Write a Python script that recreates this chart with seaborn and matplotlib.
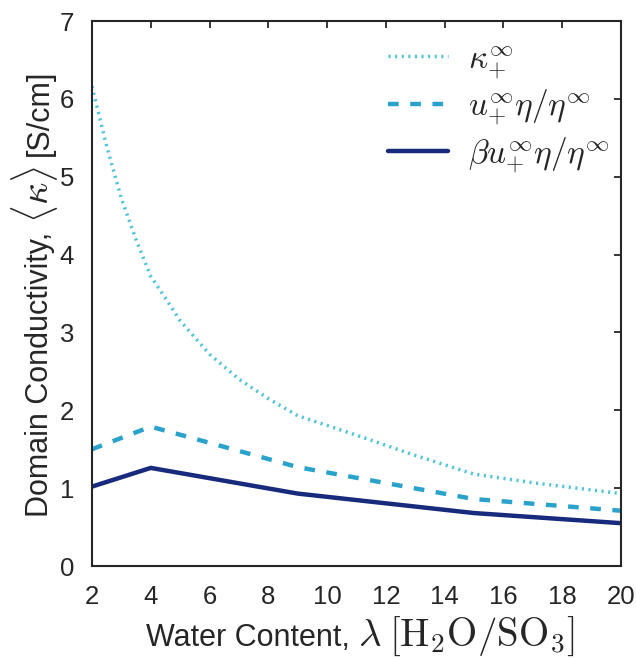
import numpy as np
import pandas as pd
import matplotlib
matplotlib.use("Agg")
import matplotlib.pyplot as plt
import seaborn as sns

# ---- data ----
lam_kappa = [2, 2.5, 3, 3.5, 4, 4.5, 5, 6, 7, 8, 9, 11, 13, 15, 17, 20]
kappa_inf = [6.16, 5.39, 4.72, 4.19, 3.72, 3.44, 3.15, 2.72, 2.40, 2.15, 1.93, 1.68, 1.42, 1.18, 1.07, 0.93]

lam = [2, 4, 9, 15, 20]
u_eta = [1.50, 1.79, 1.27, 0.86, 0.71]
beta_u_eta = [1.02, 1.26, 0.93, 0.68, 0.55]

labels = [r"$\kappa_{+}^{\infty}$",
          r"$u_{+}^{\infty}\eta/\eta^{\infty}$",
          r"$\beta u_{+}^{\infty}\eta/\eta^{\infty}$"]
xticks = [2, 4, 6, 8, 10, 12, 14, 16, 18, 20]
yticks = [0, 1, 2, 3, 4, 5, 6, 7]

xlabel_parts = ["Water Content,", r"$\lambda$", r"$[\mathrm{H_2O/SO_3}]$"]
ylabel_parts = ["Domain Conductivity,", r"$\langle\kappa\rangle$", "[S/cm]"]

sns.set_style("white")
plt.rcParams["font.family"] = ["Liberation Sans", "DejaVu Sans"]
plt.rcParams["mathtext.fontset"] = "cm"

W, H = 636, 658
fig = plt.figure(figsize=(W / 100, H / 100), dpi=100)
ax = fig.add_axes([92 / W, 92 / H, (621 - 92) / W, (566 - 21) / H])

c_dot = "#4cc3d6"
c_dash = "#2aa3cc"
c_solid = "#172a7c"
txt_c = "#262626"

sns.lineplot(x=lam_kappa, y=kappa_inf, ax=ax, color=c_dot, lw=2.5,
             linestyle=(0, (0.6, 1.3)), label=labels[0])
sns.lineplot(x=lam, y=u_eta, ax=ax, color=c_dash, lw=3.2,
             linestyle=(0, (2.4, 2.6)), label=labels[1])
sns.lineplot(x=lam, y=beta_u_eta, ax=ax, color=c_solid, lw=3.2,
             linestyle="-", label=labels[2])

ax.set_xlim(2, 20)
ax.set_ylim(0, 7)
ax.set_xticks(xticks)
ax.set_yticks(yticks)
ax.tick_params(direction="in", length=5, width=1.3, top=True, right=True,
               labelsize=18.5, colors=txt_c)
ax.tick_params(axis="x", pad=14)
ax.tick_params(axis="y", pad=13)
for s in ax.spines.values():
    s.set_visible(True)
    s.set_color(txt_c)
    s.set_linewidth(1.5)
ax.set_xlabel("")
ax.set_ylabel("")

leg = ax.legend(loc="upper right", bbox_to_anchor=(1.016, 0.995), frameon=False,
                fontsize=24, handlelength=1.8, handletextpad=0.6,
                labelspacing=0.25, borderaxespad=0.2)


def mixed_label(parts, sizes, center, base, vertical, gap=8):
    """Place text pieces of different sizes along one baseline (pixel coords)."""
    renderer = fig.canvas.get_renderer()
    rot = 90 if vertical else 0
    texts = []
    lengths = []
    for p, s in zip(parts, sizes):
        t = fig.text(0, 0, p, fontsize=s, color=txt_c, rotation=rot,
                     rotation_mode="anchor", ha="left", va="baseline")
        bb = t.get_window_extent(renderer)
        lengths.append(bb.height if vertical else bb.width)
        texts.append(t)
    total = sum(lengths) + gap * (len(parts) - 1)
    pos = center - total / 2
    for t, L in zip(texts, lengths):
        if vertical:
            t.set_position((base / W, pos / H))
        else:
            t.set_position((pos / W, base / H))
        pos += L + gap


mixed_label(xlabel_parts, [22, 28, 28], center=360, base=12, vertical=False)
mixed_label(ylabel_parts, [22, 28, 22], center=364.5, base=48, vertical=True, gap=9)

fig.savefig("out.png", dpi=100)
